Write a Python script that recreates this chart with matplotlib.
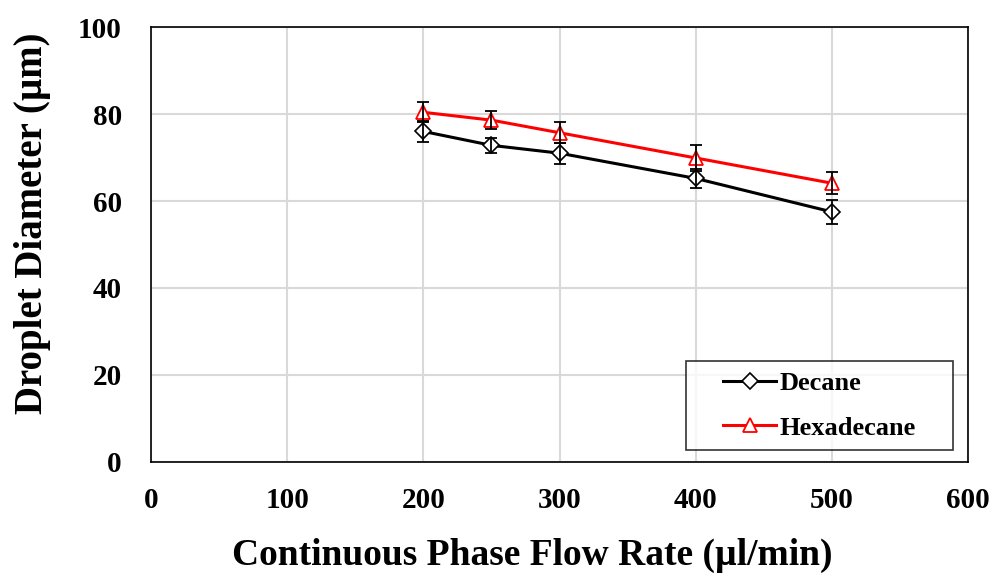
import matplotlib.pyplot as plt
from matplotlib.legend_handler import HandlerLine2D

flow_rate = [200, 250, 300, 400, 500]
decane = [76.0, 72.8, 71.0, 65.2, 57.5]
decane_err = [2.4, 1.8, 2.4, 2.1, 2.8]
hexadecane = [80.4, 78.6, 75.7, 69.9, 64.1]
hexadecane_err = [2.3, 2.1, 2.4, 2.9, 2.5]

plt.rcParams["font.family"] = ["Liberation Serif", "DejaVu Serif"]
plt.rcParams["font.weight"] = "bold"

fig = plt.figure(figsize=(9.97, 5.76), dpi=100)
ax = fig.add_axes([0.1515, 0.198, 0.8195, 0.755])

dec, = ax.plot(flow_rate, decane, color="black", lw=2.2, marker="D", ms=8,
               mfc="white", mec="black", mew=1.2, label="Decane", zorder=3)
hexd, = ax.plot(flow_rate, hexadecane, color="#ff0000", lw=2.2, marker="^",
                ms=10, mfc="white", mec="#ff0000", mew=1.3,
                label="Hexadecane", zorder=4)
# error bars sit on top of the hollow markers
err_kw = dict(fmt="none", ecolor="black", elinewidth=1.3, capsize=4.3,
              capthick=1.3, zorder=5)
ax.errorbar(flow_rate, decane, yerr=decane_err, **err_kw)
ax.errorbar(flow_rate, hexadecane, yerr=hexadecane_err, **err_kw)

ax.set_xlim(0, 600)
ax.set_ylim(0, 100)
ax.set_xticks(range(0, 601, 100))
ax.set_yticks(range(0, 101, 20))
ax.grid(True, color="#d9d9d9", lw=1.5)
ax.set_axisbelow(True)
ax.tick_params(length=0, labelsize=21)
ax.tick_params(axis="x", pad=18)
ax.tick_params(axis="y", pad=21)
for lbl in ax.get_xticklabels() + ax.get_yticklabels():
    lbl.set_fontweight("bold")
for s in ax.spines.values():
    s.set_color("black")
    s.set_linewidth(1.2)

ax.set_xlabel("Continuous Phase Flow Rate (µl/min)", fontsize=27,
              fontweight="bold")
ax.xaxis.set_label_coords(0.466, -0.175)
ax.set_ylabel("Droplet Diameter (µm)", fontsize=28, fontweight="bold")
ax.yaxis.set_label_coords(-0.123, 0.549)

leg = ax.legend(handles=[dec, hexd], labels=["Decane", "Hexadecane"],
                loc="upper left", bbox_to_anchor=(0.655, 0.025, 0.327, 0.207),
                mode="expand", fontsize=19, frameon=True, fancybox=False,
                edgecolor="black", borderpad=0.4, labelspacing=0.8,
                handlelength=3.0, handletextpad=0.15, borderaxespad=0,
                handler_map={dec: HandlerLine2D(xpad=1.0),
                             hexd: HandlerLine2D(xpad=1.0)})
leg.get_frame().set_linewidth(1.2)
for t in leg.get_texts():
    t.set_fontweight("bold")

fig.savefig("out.png", dpi=100)
